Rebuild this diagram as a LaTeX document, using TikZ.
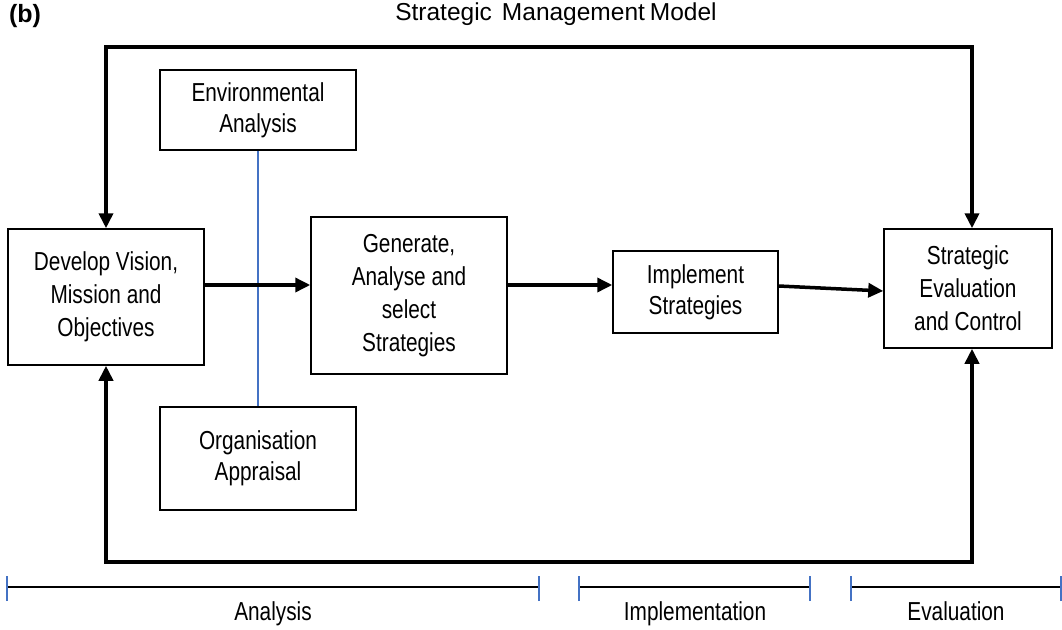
\documentclass[tikz,border=0pt]{standalone}
\usepackage{fontspec}
\setmainfont{Liberation Sans}[FakeStretch=0.8]
\newfontfamily\headfont{Liberation Sans}
\usetikzlibrary{arrows.meta,calc}
\definecolor{tickblue}{RGB}{68,114,196}
\tikzset{
  procbox/.style={draw, line width=1.5pt, rectangle, inner sep=0pt, align=center,
    font=\fontsize{26}{33}\selectfont},
  flowarrow/.style={line width=3.5pt, -{Triangle[length=15pt,width=14pt]}},
  loopline/.style={line width=4pt, {Triangle[length=15pt,width=14pt]}-{Triangle[length=15pt,width=14pt]}},
  phaseline/.style={line width=2pt},
  phasetick/.style={line width=2pt, draw=tickblue},
  txt/.style={font=\fontsize{26}{30}\selectfont, inner sep=0pt},
  headtxt/.style={font=\headfont\fontsize{24.5}{30}\selectfont, inner sep=0pt}
}
\begin{document}
\begin{tikzpicture}[x=1pt,y=-1pt]
\useasboundingbox (0,0) rectangle (1062,629);

% title and panel mark
\node[headtxt, font=\headfont\fontsize{25}{30}\selectfont\bfseries] (tag) at (25,16) {(b)};
\node[headtxt] (title) at (556,14) {Strategic\hspace{10pt}Management\hspace{5pt}Model};

% process boxes
\node[procbox, minimum width=196pt, minimum height=80pt]  (env)  at (258,110)   {Environmental\\[-2pt]Analysis};
\node[procbox, minimum width=196pt, minimum height=136pt] (dev)  at (106,297)   {Develop Vision,\\Mission and\\Objectives};
\node[procbox, minimum width=196pt, minimum height=157pt] (gen)  at (409,295.5) {Generate,\\Analyse and\\select\\Strategies};
\node[procbox, minimum width=165pt, minimum height=82pt]  (impl) at (695.5,292) {Implement\\[-2pt]Strategies};
\node[procbox, minimum width=168pt, minimum height=119pt] (eval) at (968,288.5) {Strategic\\Evaluation\\and Control};
\node[procbox, minimum width=196pt, minimum height=103pt] (org)  at (258,458.5) {Organisation\\[-2pt]Appraisal};

% link between the two appraisal inputs
\draw[line width=1.3pt, draw=tickblue] (env.south) -- (org.north);

% main flow
\draw[flowarrow] (dev.east |- 0,285) -- (gen.west |- 0,285);
\draw[flowarrow] (gen.east |- 0,285) -- (impl.west |- 0,285);
\draw[flowarrow] (impl.east |- 0,286) -- (eval.west |- 0,291);

% feedback loops
\coordinate (et) at ([xshift=4pt]eval.north);
\coordinate (eb) at ([xshift=4pt]eval.south);
\draw[loopline] (dev.north) -- (dev.north |- 0,47) -- (et |- 0,47) -- (et);
\draw[loopline] (dev.south) -- (dev.south |- 0,562) -- (eb |- 0,562) -- (eb);

% phase scale
\coordinate (a0) at (7,587);   \coordinate (a1) at (539,587);
\coordinate (i0) at (579,587); \coordinate (i1) at (810,587);
\coordinate (v0) at (851,587); \coordinate (v1) at (1061,587);
\draw[phaseline] (a0) -- (a1);
\draw[phaseline] (i0) -- (i1);
\draw[phaseline] (v0) -- (v1);
\foreach \p in {a0,a1,i0,i1,v0,v1}
  \draw[phasetick] ([yshift=-14pt]\p) -- ([yshift=11pt]\p);

\node[txt, anchor=base] (lana) at (273,620) {Analysis};
\node[txt, anchor=base] (limp) at (695,620) {Implementation};
\node[txt, anchor=base] (leva) at (956,620) {Evaluation};
\end{tikzpicture}
\end{document}
